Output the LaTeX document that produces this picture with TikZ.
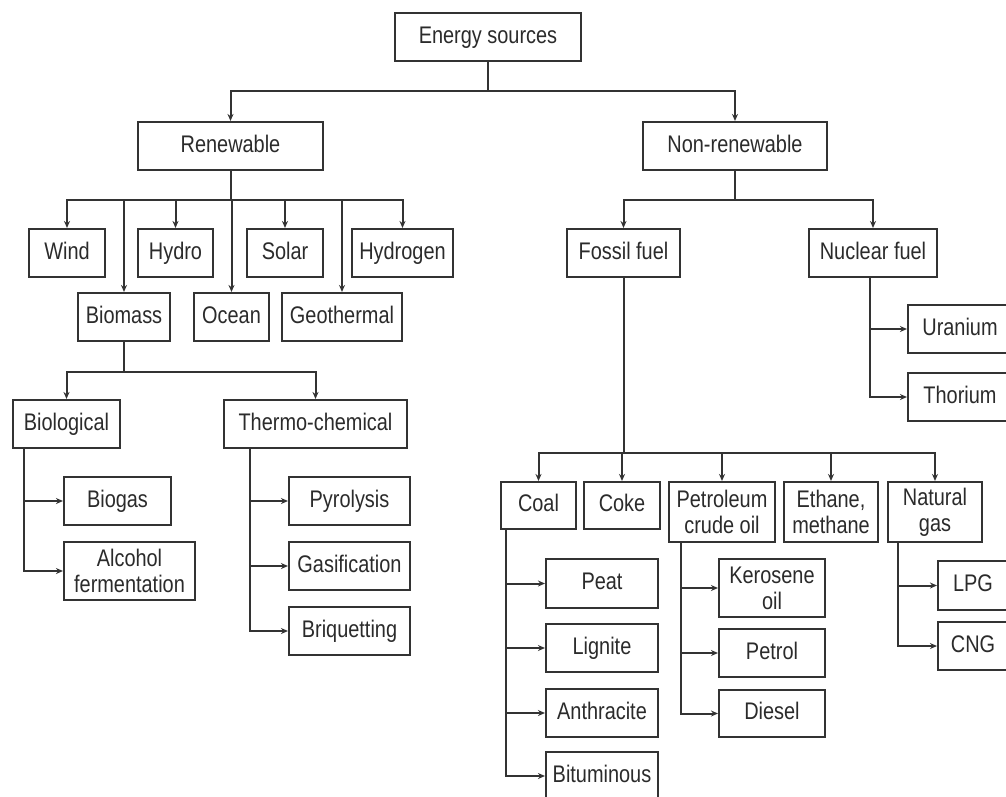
\documentclass[tikz,border=0pt]{standalone}
\usepackage{fontspec}
\setmainfont{Liberation Sans}[FakeStretch=0.83]
\usetikzlibrary{arrows.meta}
\definecolor{ink}{HTML}{333333}
\definecolor{txt}{HTML}{2B2B2B}
\begin{document}
\begin{tikzpicture}[x=1pt,y=-1pt,
  boxbase/.style={draw=ink,line width=2.1pt,rectangle,inner sep=0pt,text=txt,align=center,
    font=\fontsize{24}{26}\selectfont},
  box/.style={boxbase,text height=17pt,text depth=5pt},
  twobox/.style={boxbase},
  conn/.style={draw=ink,line width=2pt},
  arr/.style={conn,-{Stealth[length=7pt,width=6pt]}}]
\useasboundingbox (0,0) rectangle (1006,796);
\clip (0,0) rectangle (1006,796);
\fill[white] (0,0) rectangle (1006,796);
% nodes
\node[box,minimum width=186,minimum height=48] (es) at (488,37) {Energy sources};
\node[box,minimum width=185,minimum height=48] (ren) at (230.5,146) {Renewable};
\node[box,minimum width=184,minimum height=48] (nonren) at (735,146) {Non-renewable};
\node[box,minimum width=76,minimum height=48] (wind) at (67,253) {Wind};
\node[box,minimum width=75,minimum height=48] (hydro) at (175.5,253) {Hydro};
\node[box,minimum width=76,minimum height=48] (solar) at (285,253) {Solar};
\node[box,minimum width=101,minimum height=48] (hydrogen) at (402.5,253) {Hydrogen};
\node[box,minimum width=92,minimum height=48] (biomass) at (124,317) {Biomass};
\node[box,minimum width=75,minimum height=48] (ocean) at (231.5,317) {Ocean};
\node[box,minimum width=120,minimum height=48] (geo) at (342,317) {Geothermal};
\node[box,minimum width=107,minimum height=48] (biological) at (66.5,424) {Biological};
\node[box,minimum width=183,minimum height=48] (thermo) at (315.5,424) {Thermo-chemical};
\node[box,minimum width=107,minimum height=48] (biogas) at (117.5,501) {Biogas};
\node[twobox,minimum width=131,minimum height=58] (alcohol) at (129.5,571) {Alcohol\\fermentation};
\node[box,minimum width=121,minimum height=48] (pyro) at (349.5,501) {Pyrolysis};
\node[box,minimum width=121,minimum height=48] (gasif) at (349.5,566) {Gasification};
\node[box,minimum width=121,minimum height=48] (briq) at (349.5,631) {Briquetting};
\node[box,minimum width=113,minimum height=48] (fossil) at (623.5,253) {Fossil fuel};
\node[box,minimum width=128,minimum height=48] (nuclear) at (873,253) {Nuclear fuel};
\node[box,minimum width=104,minimum height=48] (uranium) at (960,329) {Uranium};
\node[box,minimum width=104,minimum height=48] (thorium) at (960,397) {Thorium};
\node[box,minimum width=75,minimum height=47] (coal) at (538.5,505.5) {Coal};
\node[box,minimum width=76,minimum height=47] (coke) at (622,505.5) {Coke};
\node[twobox,minimum width=106,minimum height=60] (petroleum) at (722,512) {Petroleum\\crude oil};
\node[twobox,minimum width=94,minimum height=60] (ethane) at (831,512) {Ethane,\\methane};
\node[twobox,minimum width=94,minimum height=60] (natgas) at (935,512) {Natural\\gas};
\node[box,minimum width=112,minimum height=49] (peat) at (602,583.5) {Peat};
\node[box,minimum width=112,minimum height=48] (lignite) at (602,648) {Lignite};
\node[box,minimum width=112,minimum height=48] (anthracite) at (602,713) {Anthracite};
\node[box,minimum width=112,minimum height=48] (bituminous) at (602,776) {Bituminous};
\node[twobox,minimum width=106,minimum height=58] (kerosene) at (772,588) {Kerosene\\oil};
\node[box,minimum width=106,minimum height=48] (petrol) at (772,653) {Petrol};
\node[box,minimum width=106,minimum height=47] (diesel) at (772,713.5) {Diesel};
\node[box,minimum width=70,minimum height=49] (lpg) at (973,585.5) {LPG};
\node[box,minimum width=70,minimum height=48] (cng) at (973,646) {CNG};
% connectors
\foreach \t in {ren,nonren} \draw[arr] (es.south) -- ++(0,29) -| (\t.north);
\foreach \t in {wind,hydro,solar,hydrogen,biomass,ocean,geo}
  \draw[arr] (ren.south) -- ++(0,29) -| (\t.north);
\foreach \t in {biological,thermo} \draw[arr] (biomass.south) -- ++(0,30) -| (\t.north);
\foreach \t in {biogas,alcohol} \draw[arr] ([xshift=12pt]biological.south west) |- (\t.west);
\foreach \t in {pyro,gasif,briq} \draw[arr] ([xshift=27pt]thermo.south west) |- (\t.west);
\foreach \t in {fossil,nuclear} \draw[arr] (nonren.south) -- ++(0,29) -| (\t.north);
\foreach \t in {uranium,thorium} \draw[arr] ([xshift=-3pt]nuclear.south) |- (\t.west);
\foreach \t in {coal,coke,petroleum,ethane,natgas}
  \draw[arr] (fossil.south) -- ++(0,175) -| (\t.north);
\foreach \t in {peat,lignite,anthracite,bituminous} \draw[arr] ([xshift=6pt]coal.south west) |- (\t.west);
\foreach \t in {kerosene,petrol,diesel} \draw[arr] ([xshift=13pt]petroleum.south west) |- (\t.west);
\foreach \t in {lpg,cng} \draw[arr] ([xshift=11pt]natgas.south west) |- (\t.west);
\end{tikzpicture}
\end{document}
